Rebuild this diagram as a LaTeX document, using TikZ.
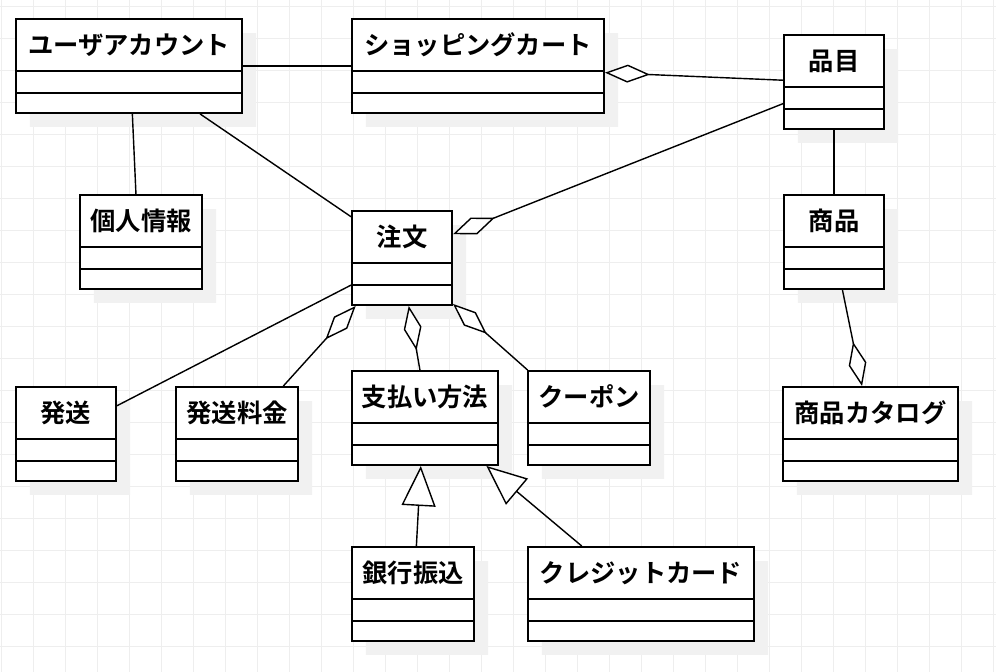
\documentclass[tikz,border=0pt]{standalone}
\usepackage{fontspec}
\usepackage{tikz}
\usetikzlibrary{arrows.meta, shapes.multipart, shadows}
\newfontfamily\jpfont{Noto Sans CJK JP Bold}
\definecolor{mygrid}{RGB}{238,238,238}
\definecolor{myshadow}{RGB}{241,241,241}
\newcommand{\classparts}[1]{\rule[-0.385cm]{0pt}{1.25cm}#1\nodepart{two}\rule{0pt}{0.5cm}\nodepart{three}\rule{0pt}{0.45cm}}
\tikzset{
  classbox/.style={rectangle split, rectangle split parts=3, draw=black,
    fill=white, line width=1.4pt, inner sep=0pt,
    drop shadow={shadow xshift=0.35cm, shadow yshift=-0.35cm,
      fill=myshadow, opacity=1}},
  assoc/.style={line width=1pt, color=black},
  aggr/.style={line width=1pt, color=black,
    -{Diamond[open, fill=white, length=1.125cm, width=0.45cm]}},
  gener/.style={line width=1pt, color=black,
    -{Triangle[open, fill=white, length=1cm, width=0.85cm]}},
  gridline/.style={line width=0.6pt, color=mygrid}
}
\begin{document}
\begin{tikzpicture}[x=0.025cm, y=-0.025cm, font=\jpfont\fontsize{18}{20}\selectfont]
  \useasboundingbox (0,0) rectangle (996,672);
  \fill[white] (0,0) rectangle (996,672);
  % background grid
  \foreach \gx in {1,33,...,993}
    \draw[gridline] (\gx,0) -- (\gx,672);
  \foreach \gy in {6,38,...,670}
    \draw[gridline] (0,\gy) -- (996,\gy);
  % classes
  \node[classbox, minimum width=5.65cm] (user) at (129,66) {\classparts{ユーザアカウント}};
  \node[classbox, minimum width=6.3cm] (cart) at (478,66) {\classparts{ショッピングカート}};
  \node[classbox, minimum width=2.5cm] (item) at (834,82) {\classparts{品目}};
  \node[classbox, minimum width=3.05cm] (personal) at (141,242) {\classparts{個人情報}};
  \node[classbox, minimum width=2.5cm] (order) at (402,258) {\classparts{注文}};
  \node[classbox, minimum width=2.5cm] (product) at (834,242) {\classparts{商品}};
  \node[classbox, minimum width=2.5cm] (shipping) at (66,434) {\classparts{発送}};
  \node[classbox, minimum width=3.05cm] (fee) at (237,434) {\classparts{発送料金}};
  \node[classbox, minimum width=3.65cm] (payment) at (425,418) {\classparts{支払い方法}};
  \node[classbox, minimum width=3.05cm] (coupon) at (589,418) {\classparts{クーポン}};
  \node[classbox, minimum width=4.375cm] (catalog) at (870.5,434) {\classparts{商品カタログ}};
  \node[classbox, minimum width=3.05cm] (bank) at (413,594) {\classparts{銀行振込}};
  \node[classbox, minimum width=5.65cm] (credit) at (641,594) {\classparts{クレジットカード}};
  % associations
  \draw[assoc] (user.east) -- (cart.west);
  \draw[assoc] (user.-86) -- (personal.96);
  \draw[assoc] (user.-34) -- (order.141);
  \draw[assoc] (item.south) -- (product.north);
  \draw[assoc] (order.208) -- (shipping.29);
  % aggregations
  \draw[aggr] (item.178) -- (cart.-3);
  \draw[aggr] (item.203) -- (order.25);
  \draw[aggr] (product.-80) -- (catalog.100);
  \draw[aggr] (fee.46) -- (order.226);
  \draw[aggr] (payment.96) -- (order.-82);
  \draw[aggr] (coupon.142) -- (order.-42);
  % generalizations
  \draw[gener] (bank.86) -- (payment.265);
  \draw[gener] (credit.141) -- (payment.-38);
\end{tikzpicture}
\end{document}
